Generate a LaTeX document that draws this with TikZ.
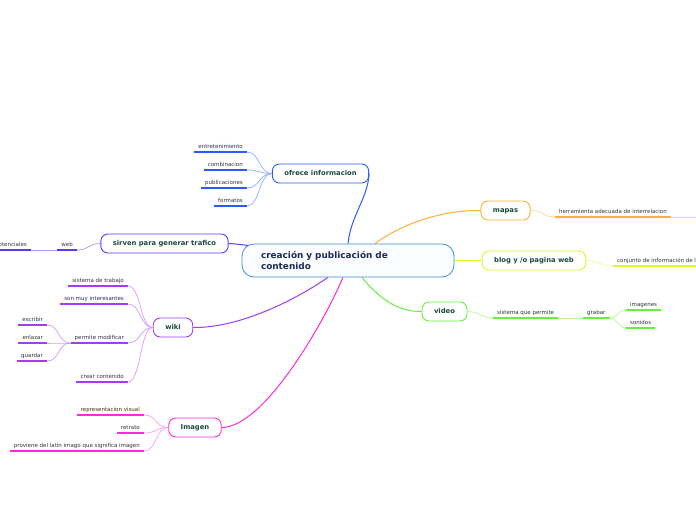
\documentclass[tikz,border=0pt]{standalone}
\usepackage{fontspec}
\setmainfont{DejaVu Sans}
\usetikzlibrary{backgrounds}
\definecolor{rootblue}{HTML}{3E8FD0}
\definecolor{rootfill}{HTML}{FAFCFF}
\definecolor{roottext}{HTML}{1B2B55}
\definecolor{topictext}{HTML}{1A4A3C}
\definecolor{leaftext}{HTML}{333333}
\definecolor{infoblue}{HTML}{2A5BFF}
\definecolor{infolight}{HTML}{8FAEFF}
\definecolor{trafviolet}{HTML}{5A3AF5}
\definecolor{traflight}{HTML}{A89CFF}
\definecolor{wikipurple}{HTML}{A33BF7}
\definecolor{wikilight}{HTML}{D29CFB}
\definecolor{imgmagenta}{HTML}{FF2BDA}
\definecolor{imglight}{HTML}{FF9DF0}
\definecolor{maporange}{HTML}{FFAE3A}
\definecolor{maplight}{HTML}{FFD597}
\definecolor{blogyellow}{HTML}{D6FA2A}
\definecolor{bloglight}{HTML}{EAFC95}
\definecolor{vidgreen}{HTML}{66F03A}
\definecolor{vidlight}{HTML}{B5F89A}
\tikzset{
  root box/.style={draw=rootblue,fill=rootfill,line width=0.8pt,rounded corners=12pt,
    minimum height=33pt,text width=174pt,align=left,inner xsep=19pt,inner ysep=0pt,
    font=\fontsize{8.9}{11}\selectfont\bfseries,text=roottext},
  topic box/.style={draw=#1,fill=white,line width=0.9pt,rounded corners=7pt,
    minimum height=19pt,inner xsep=12pt,inner ysep=0pt,text height=5pt,text depth=1.4pt,
    font=\fontsize{6.8}{8}\selectfont\bfseries,text=topictext},
  leaf/.style={inner xsep=4pt,inner ysep=3.5pt,text depth=0pt,
    font=\fontsize{5.5}{6.5}\selectfont,text=leaftext},
  main link/.style={line width=1pt,#1},
  sub link/.style={line width=0.7pt,#1},
  leaf line/.style={line width=1.5pt,#1},
}
\newcommand{\swoop}[4]{\draw[sub link=#1] (#2) .. controls +(#4,0) and +(-#4,0) .. (#3);}

\begin{document}
\begin{tikzpicture}[x=1pt,y=-1pt]
\useasboundingbox (0,0) rectangle (696,520);
\node[root box] (root) at (348,260.5) {creación y publicación de\\contenido};
\node[topic box=infoblue] (info) at (320.5,173.5) {ofrece informacion};
\node[topic box=trafviolet] (traf) at (164.5,243.5) {sirven para generar trafico};
\node[topic box=wikipurple] (wiki) at (173,327.5) {wiki};
\node[topic box=imgmagenta] (img) at (195,427.5) {Imagen};
\node[topic box=maporange] (maps) at (505.5,210.5) {mapas};
\node[topic box=blogyellow] (blog) at (534,260.5) {blog y /o pagina web};
\node[topic box=vidgreen] (vid) at (444.5,311.5) {video};

\node[leaf,anchor=south east] (entr) at (247,152) {entretenimiento};
\node[leaf,anchor=south east] (comb) at (247,170) {combinacion};
\node[leaf,anchor=south east] (publ) at (247,188) {publicaciones};
\node[leaf,anchor=south east] (form) at (247,206) {formatos};

\node[leaf,anchor=south east] (web) at (77,250) {web};
\node[leaf,anchor=south east] (pot) at (31,250) {potenciales};

\node[leaf,anchor=south east] (sist) at (128,286) {sistema de trabajo};
\node[leaf,anchor=south east] (inter) at (128,304) {son muy interesantes};
\node[leaf,anchor=south east] (modif) at (128,343) {permite modificar};
\node[leaf,anchor=south east] (crear) at (128,382) {crear contenido};
\node[leaf,anchor=south east] (escr) at (47,325) {escribir};
\node[leaf,anchor=south east] (enla) at (47,343) {enlazar};
\node[leaf,anchor=south east] (guar) at (47,361) {guardar};

\node[leaf,anchor=south east] (repr) at (144,415) {representacion visual};
\node[leaf,anchor=south east] (retr) at (144,433) {retrato};
\node[leaf,anchor=south east] (latin) at (144,451) {proviene del latín imago que significa imagen};

\node[leaf,anchor=south west] (herr) at (555,217) {herramienta adecuada de interrelacion};
\coordinate (herrnext) at (700,217);
\node[leaf,anchor=south west] (conj) at (613,266) {conjunto de información de la};

\node[leaf,anchor=south west] (perm) at (493,318) {sistema que permite};
\node[leaf,anchor=south west] (grab) at (583,318) {grabar};
\node[leaf,anchor=south west] (imgs) at (626,310) {imagenes};
\node[leaf,anchor=south west] (sonid) at (626,328) {sonidos};

\begin{pgfonlayer}{background}
\draw[main link=infoblue] (root.north) .. controls (351,215) and (368,198) .. (info.east);
\draw[main link=trafviolet] (traf.east) .. controls (240,244) and (250,246) .. ([xshift=16pt,yshift=-3pt]root.north west);
\draw[main link=wikipurple] ([xshift=-20pt]root.south) .. controls (295,300) and (240,328) .. (wiki.east);
\draw[main link=imgmagenta] ([xshift=-5pt]root.south) .. controls (325,320) and (265,427) .. (img.east);
\draw[main link=maporange] ([xshift=27pt]root.north) .. controls (400,225) and (440,210) .. (maps.west);
\draw[main link=blogyellow] (root.east) -- (blog.west);
\draw[main link=vidgreen] ([xshift=14pt]root.south) .. controls (380,300) and (400,312) .. (vid.west);
\end{pgfonlayer}

\foreach \n in {entr,comb,publ,form} {
  \draw[leaf line=infoblue] (\n.south west) -- (\n.south east);
  \swoop{infolight}{info.west}{\n.south east}{-13}
}
\draw[leaf line=trafviolet] (web.south west) -- (web.south east);
\draw[leaf line=trafviolet] (pot.south west) -- (pot.south east);
\swoop{traflight}{traf.west}{web.south east}{-12}
\draw[sub link=traflight] (web.south west) -- (pot.south east);

\foreach \n in {sist,inter,modif,crear} {
  \draw[leaf line=wikipurple] (\n.south west) -- (\n.south east);
  \swoop{wikilight}{wiki.west}{\n.south east}{-13}
}
\foreach \n in {escr,enla,guar} {
  \draw[leaf line=wikipurple] (\n.south west) -- (\n.south east);
  \swoop{wikilight}{modif.south west}{\n.south east}{-13}
}

\foreach \n in {repr,retr,latin} {
  \draw[leaf line=imgmagenta] (\n.south west) -- (\n.south east);
  \swoop{imglight}{img.west}{\n.south east}{-13}
}

\draw[leaf line=maporange] (herr.south west) -- (herr.south east);
\swoop{maplight}{maps.east}{herr.south west}{13}
\draw[sub link=maplight] (herr.south east) -- (herrnext);

\draw[leaf line=blogyellow] (conj.south west) -- (conj.south east);
\swoop{bloglight}{blog.east}{conj.south west}{13}

\foreach \n in {perm,grab,imgs,sonid}
  \draw[leaf line=vidgreen] (\n.south west) -- (\n.south east);
\swoop{vidlight}{vid.east}{perm.south west}{13}
\draw[sub link=vidlight] (perm.south east) -- (grab.south west);
\swoop{vidlight}{grab.south east}{imgs.south west}{8}
\swoop{vidlight}{grab.south east}{sonid.south west}{8}
\end{tikzpicture}
\end{document}
